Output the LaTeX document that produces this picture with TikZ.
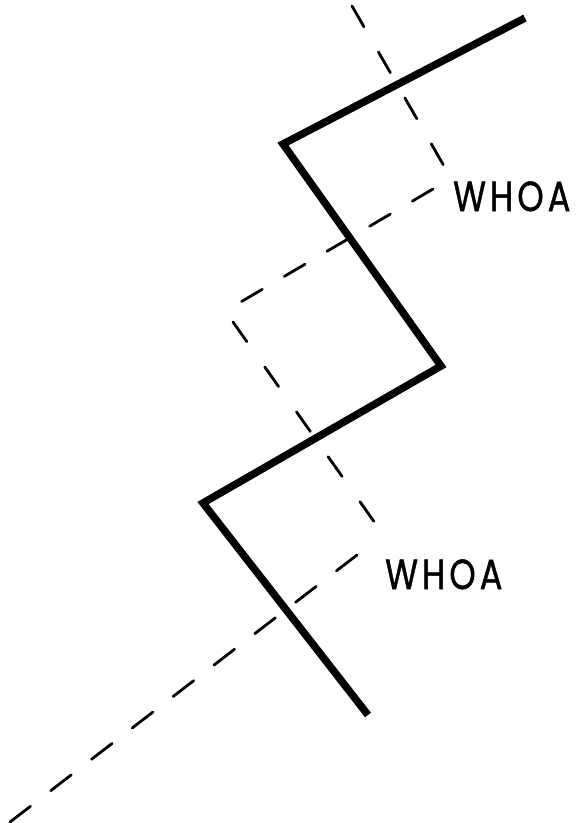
\documentclass[tikz,border=0pt]{standalone}
\usepackage{graphicx}
\usepackage{fontspec}
\setmainfont{Poppins}
\newfontfamily\handfont[LetterSpace=12,FakeBold=1.2]{Poppins}
\begin{document}
\begin{tikzpicture}[x=1pt,y=-1pt,
  solidline/.style={line width=7.5pt,line join=miter,line cap=butt},
  dashbase/.style={line width=2.8pt,line cap=round},
  whoa/.style={font=\handfont\fontsize{42}{42}\selectfont,inner sep=0pt,anchor=base west}]
\useasboundingbox (0,0) rectangle (581,823);
% solid zigzag
\coordinate (s1) at (525,18);
\coordinate (s2) at (283,144);
\coordinate (s3) at (441,366);
\coordinate (s4) at (203,503);
\coordinate (s5) at (368,715);
\draw[solidline] (s1) -- (s2) -- (s3) -- (s4) -- (s5);
% dashed path
\coordinate (d0) at (352,6);
\coordinate (d1) at (444,166);
\coordinate (d2) at (433,189);
\coordinate (d3) at (239,303);
\coordinate (d4) at (233,322);
\coordinate (d5) at (375,523);
\coordinate (d6) at (357,555);
\coordinate (d7) at (10,822);
\draw[dashbase,dash pattern=on 24pt off 29pt] (d0) -- (d1);
\draw[dashbase,dash pattern=on 24pt off 25.5pt] (d2) -- (d3);
\draw[dashbase,dash pattern=on 24pt off 31pt] (d4) -- (d5);
\draw[dashbase,dash pattern=on 26pt off 25.5pt] (d6) -- (d7);
% labels
\node[whoa] (w1) at (453,211) {\scalebox{0.8}[1]{WHOA}};
\node[whoa] (w2) at (385,589) {\scalebox{0.8}[1]{WHOA}};
\end{tikzpicture}
\end{document}
